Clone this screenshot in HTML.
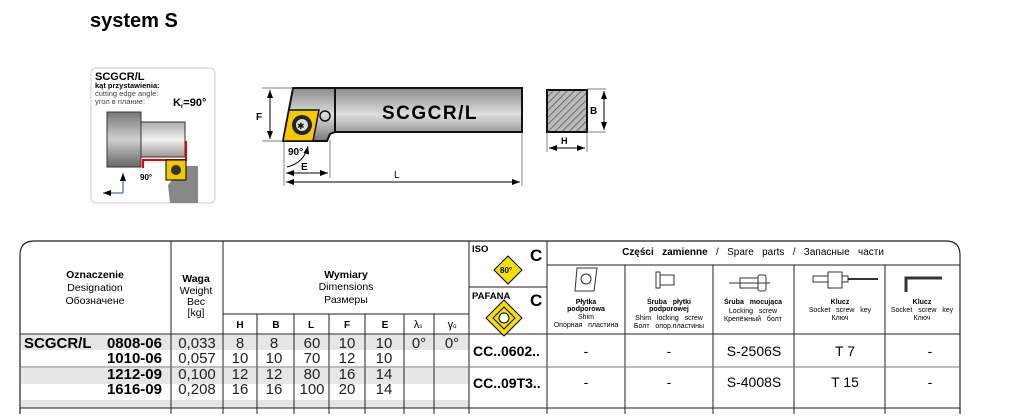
<!DOCTYPE html>
<html><head><meta charset="utf-8"><style>
body{margin:0;background:#fff;width:1035px;height:414px;overflow:hidden;font-family:"Liberation Sans",Arial,sans-serif}
svg text{font-family:"Liberation Sans",Arial,sans-serif;white-space:pre}
</style></head><body>
<svg width="1035" height="414" viewBox="0 0 1035 414" xmlns="http://www.w3.org/2000/svg">
<defs>
<linearGradient id="bar" x1="0" y1="0" x2="0" y2="1"><stop offset="0" stop-color="#8a8a8a"/><stop offset="0.5" stop-color="#dedede"/><stop offset="1" stop-color="#7a7a7a"/></linearGradient>
<linearGradient id="cyl" x1="0" y1="0" x2="0" y2="1"><stop offset="0" stop-color="#777"/><stop offset="0.5" stop-color="#cfcfcf"/><stop offset="1" stop-color="#666"/></linearGradient>
<linearGradient id="cyl2" x1="0" y1="0" x2="0" y2="1"><stop offset="0" stop-color="#aaa"/><stop offset="0.5" stop-color="#f2f2f2"/><stop offset="1" stop-color="#999"/></linearGradient>
<pattern id="hatch" width="5" height="5" patternUnits="userSpaceOnUse" patternTransform="rotate(45)"><rect width="5" height="5" fill="#bbb"/><line x1="0" y1="0" x2="0" y2="5" stroke="#555" stroke-width="1.5"/></pattern>
<marker id="ar" markerWidth="8" markerHeight="6" refX="8" refY="3" orient="auto-start-reverse"><path d="M0,0 L8,3 L0,6 Z" fill="#000"/></marker>
</defs>
<text x="90" y="27" font-size="20" font-weight="bold">system S</text>

<rect x="91" y="68" width="124" height="135" rx="5" fill="#fff" stroke="#ccc"/>
<text x="95" y="80" font-size="11" font-weight="bold">SCGCR/L</text>
<text x="95" y="88" font-size="7.5" font-weight="bold">kąt przystawienia:</text>
<text x="95" y="96" font-size="7.5" fill="#444">cutting edge angle:</text>
<text x="95" y="104" font-size="7.5" fill="#444">угол в плание:</text>
<text x="173" y="106" font-size="11" font-weight="bold">K<tspan font-size="6" dy="2">r</tspan><tspan dy="-2">=90°</tspan></text>
<rect x="107" y="112" width="34" height="55" fill="url(#cyl)" stroke="#333"/>
<rect x="141" y="122" width="44" height="35" fill="url(#cyl2)" stroke="#333"/>
<path d="M186 141 V160 H143 V168" fill="none" stroke="#e00" stroke-width="2"/>
<path d="M184 166 L198 166 L198 203 L170 203 L168 185 Z" fill="#888"/>
<rect x="166" y="160" width="20" height="20" fill="#f5c800" stroke="#000"/>
<circle cx="176" cy="170" r="5" fill="#333"/>
<text x="140" y="180" font-size="8" font-weight="bold">90°</text>
<path d="M123 193 V173" stroke="#24a" marker-end="url(#ar)" stroke-width="1"/>
<path d="M123 193 H103" stroke="#24a" marker-end="url(#ar)" stroke-width="1"/>

<path d="M293 88 H522 V132 H335 L330 134 L327 141 H283 Z" fill="url(#bar)" stroke="#111" stroke-width="2"/>
<line x1="335" y1="88" x2="335" y2="132" stroke="#111" stroke-width="2"/>
<text x="382" y="119" font-size="19" font-weight="bold" letter-spacing="1.5">SCGCR/L</text>
<circle cx="325" cy="116" r="5" fill="none" stroke="#111" stroke-width="1.5"/>
<path d="M289 110 L319 110 L313 141 L283 141 Z" fill="#f5c800" stroke="#111" stroke-width="1.5"/>
<circle cx="302" cy="125" r="10" fill="#222"/>
<circle cx="302" cy="125" r="6" fill="#ddd"/>
<text x="297" y="129" font-size="9" fill="#111">✱</text>
<line x1="262" y1="88" x2="293" y2="88" stroke="#555" stroke-width="0.7"/>
<line x1="262" y1="141" x2="283" y2="141" stroke="#555" stroke-width="0.7"/>
<line x1="270" y1="90" x2="270" y2="139" stroke="#000" marker-start="url(#ar)" marker-end="url(#ar)"/>
<text x="256" y="120" font-size="10" font-weight="bold">F</text>
<line x1="284" y1="141" x2="284" y2="186" stroke="#555" stroke-width="0.7"/>
<line x1="330" y1="140" x2="330" y2="178" stroke="#555" stroke-width="0.7"/>
<line x1="522" y1="132" x2="522" y2="186" stroke="#555" stroke-width="0.7"/>
<line x1="286" y1="173" x2="328" y2="173" stroke="#000" marker-start="url(#ar)" marker-end="url(#ar)"/>
<line x1="286" y1="182" x2="520" y2="182" stroke="#000" marker-start="url(#ar)" marker-end="url(#ar)"/>
<text x="301" y="170" font-size="10" font-weight="bold">E</text>
<text x="394" y="178" font-size="10">L</text>
<text x="288" y="155" font-size="10" font-weight="bold">90°</text>
<path d="M287 167 Q304 163 308 146" fill="none" stroke="#000" marker-end="url(#ar)"/>
<rect x="547" y="90" width="40" height="42" fill="url(#hatch)" stroke="#111" stroke-width="2"/>
<line x1="587" y1="89" x2="606" y2="89" stroke="#555" stroke-width="0.7"/>
<line x1="587" y1="132" x2="606" y2="132" stroke="#555" stroke-width="0.7"/>
<line x1="604" y1="91" x2="604" y2="130" stroke="#000" marker-start="url(#ar)" marker-end="url(#ar)"/>
<text x="590" y="114" font-size="10" font-weight="bold">B</text>
<line x1="547" y1="132" x2="547" y2="152" stroke="#555" stroke-width="0.7"/>
<line x1="587" y1="132" x2="587" y2="152" stroke="#555" stroke-width="0.7"/>
<line x1="549" y1="148" x2="585" y2="148" stroke="#000" marker-start="url(#ar)" marker-end="url(#ar)"/>
<text x="561" y="144" font-size="9" font-weight="bold">H</text>

<g fill="#e6e6e6">
<rect x="21" y="335" width="448" height="15"/>
<rect x="21" y="368" width="448" height="16"/>
<rect x="21" y="400" width="448" height="8"/>
</g>
<path d="M20 414 V255 Q20 241 34 241 H946 Q960 241 960 255 V414" fill="none" stroke="#222" stroke-width="1.2"/>
<g stroke="#222" stroke-width="1">
<line x1="171" y1="241" x2="171" y2="414"/>
<line x1="223" y1="241" x2="223" y2="414"/>
<line x1="469" y1="241" x2="469" y2="414"/>
<line x1="547" y1="241" x2="547" y2="414"/>
<line x1="625" y1="265" x2="625" y2="414"/>
<line x1="713" y1="265" x2="713" y2="414"/>
<line x1="794" y1="265" x2="794" y2="414"/>
<line x1="885" y1="265" x2="885" y2="414"/>
<line x1="547" y1="265" x2="960" y2="265"/>
<line x1="469" y1="287" x2="547" y2="287"/>
<line x1="223" y1="314" x2="469" y2="314"/>
<line x1="257" y1="314" x2="257" y2="414"/>
<line x1="294" y1="314" x2="294" y2="414"/>
<line x1="329" y1="314" x2="329" y2="414"/>
<line x1="365" y1="314" x2="365" y2="414"/>
<line x1="404" y1="314" x2="404" y2="414"/>
<line x1="434" y1="314" x2="434" y2="414"/>
<line x1="20" y1="334" x2="960" y2="334"/>
<line x1="20" y1="367" x2="960" y2="367" stroke="#777"/>
<line x1="20" y1="408" x2="960" y2="408"/>
</g>
<g font-size="10.5" text-anchor="middle">
<text x="95" y="278" font-weight="bold">Oznaczenie</text>
<text x="95" y="291">Designation</text>
<text x="95" y="304">Обозначене</text>
<text x="196" y="282" font-weight="bold">Waga</text>
<text x="196" y="294">Weight</text>
<text x="196" y="305">Вес</text>
<text x="196" y="316">[kg]</text>
<text x="346" y="278" font-weight="bold">Wymiary</text>
<text x="346" y="290">Dimensions</text>
<text x="346" y="303">Размеры</text>
<g font-weight="bold" font-size="10"><text x="240" y="328">H</text><text x="276" y="328">B</text><text x="311" y="328">L</text><text x="347" y="328">F</text><text x="385" y="328">E</text></g>
<text x="418" y="328" font-size="11">λ<tspan font-size="6">s</tspan></text>
<text x="452" y="328" font-size="11">γ<tspan font-size="6">o</tspan></text>
</g>
<text x="472" y="252" font-size="9.5" font-weight="bold">ISO</text>
<text x="530" y="261" font-size="17" font-weight="bold">C</text>
<path d="M508 256 L522 270 L508 284 L494 270 Z" fill="#f5e000" stroke="#000"/>
<text x="500" y="273" font-size="8" font-weight="bold">80°</text>
<text x="472" y="299" font-size="9.5" font-weight="bold">PAFANA</text>
<text x="530" y="306" font-size="17" font-weight="bold">C</text>
<path d="M504 300 L522 318 L504 336 L486 318 Z" fill="#f5e000" stroke="#000"/>
<path d="M504 307 L515 318 L504 329 L493 318 Z" fill="none" stroke="#000"/>
<circle cx="504" cy="318" r="5" fill="#fff" stroke="#000"/>
<text x="753" y="255" font-size="10" text-anchor="middle"><tspan font-weight="bold">Części   zamienne</tspan>   /   Spare   parts   /   Запасные   части</text>
<path d="M577 268 H597 L594 291 H575 Z" fill="#fff" stroke="#333"/><circle cx="586" cy="279" r="5" fill="none" stroke="#333"/>
<rect x="660" y="275" width="14" height="10" fill="none" stroke="#333"/><rect x="656" y="272" width="4" height="16" fill="none" stroke="#333"/>
<line x1="729" y1="283" x2="770" y2="283" stroke="#333"/><rect x="740" y="278" width="18" height="10" fill="none" stroke="#333"/><rect x="758" y="275" width="8" height="16" rx="2" fill="none" stroke="#333"/>
<rect x="813" y="276" width="15" height="6" fill="none" stroke="#333"/><rect x="828" y="272" width="14" height="16" fill="none" stroke="#333"/><rect x="842" y="276" width="6" height="6" fill="none" stroke="#333"/><line x1="848" y1="279" x2="878" y2="279" stroke="#333" stroke-width="2"/>
<path d="M906 292 V278 H942" fill="none" stroke="#333" stroke-width="3"/>
<g font-size="7" text-anchor="middle">
<text x="586" y="304" font-weight="bold">Płytka</text><text x="586" y="311" font-weight="bold">podporowa</text><text x="586" y="319">Shim</text><text x="586" y="327">Опорная   пластина</text>
<text x="669" y="304" font-weight="bold">Śruba   płytki</text><text x="669" y="311" font-weight="bold">podporowej</text><text x="669" y="320">Shim   locking   screw</text><text x="669" y="328">Болт   опор.пластины</text>
<text x="753" y="304" font-weight="bold">Śruba   mocująca</text><text x="753" y="313">Locking   screw</text><text x="753" y="321">Крепёжный   болт</text>
<text x="840" y="304" font-weight="bold">Klucz</text><text x="840" y="312">Socket   screw   key</text><text x="840" y="320">Ключ</text>
<text x="922" y="304" font-weight="bold">Klucz</text><text x="922" y="312">Socket   screw   key</text><text x="922" y="320">Ключ</text>
</g>
<g font-size="15">
<text x="24" y="348" font-weight="bold">SCGCR/L</text>
<g font-weight="bold" text-anchor="end"><text x="162" y="348">0808-06</text><text x="162" y="363">1010-06</text><text x="162" y="379">1212-09</text><text x="162" y="394">1616-09</text></g>
<g text-anchor="middle" fill="#222">
<text x="197" y="348">0,033</text><text x="197" y="363">0,057</text><text x="197" y="379">0,100</text><text x="197" y="394">0,208</text>
<text x="240" y="348">8</text><text x="240" y="363">10</text><text x="240" y="379">12</text><text x="240" y="394">16</text>
<text x="274" y="348">8</text><text x="274" y="363">10</text><text x="274" y="379">12</text><text x="274" y="394">16</text>
<text x="312" y="348">60</text><text x="312" y="363">70</text><text x="312" y="379">80</text><text x="312" y="394">100</text>
<text x="347" y="348">10</text><text x="347" y="363">12</text><text x="347" y="379">16</text><text x="347" y="394">20</text>
<text x="384" y="348">10</text><text x="384" y="363">10</text><text x="384" y="379">14</text><text x="384" y="394">14</text>
<text x="419" y="348">0°</text><text x="452" y="348">0°</text>
</g>
<g font-weight="bold" font-size="14"><text x="473" y="356">CC..0602..</text><text x="473" y="388">CC..09T3..</text></g>
<g text-anchor="middle" font-size="14">
<text x="586" y="356">-</text><text x="669" y="356">-</text><text x="754" y="356">S-2506S</text><text x="845" y="356">T 7</text><text x="930" y="356">-</text>
<text x="586" y="387">-</text><text x="669" y="387">-</text><text x="754" y="387">S-4008S</text><text x="845" y="387">T 15</text><text x="930" y="387">-</text>
</g>
</g>
</svg>
</body></html>
